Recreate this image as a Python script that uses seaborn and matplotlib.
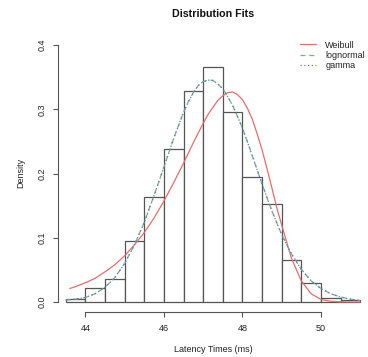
import seaborn as sns
import pandas as pd
import matplotlib.pyplot as plt

# histogram (density per 0.5 ms bin)
bin_edges = [43.5, 44.0, 44.5, 45.0, 45.5, 46.0, 46.5, 47.0, 47.5,
             48.0, 48.5, 49.0, 49.5, 50.0, 50.5, 51.0]
hist_density = [0.005, 0.022, 0.036, 0.095, 0.164, 0.238, 0.328, 0.366,
                0.296, 0.194, 0.153, 0.065, 0.030, 0.006, 0.003]

# fitted densities
curve_x = [43.5, 43.75, 44.0, 44.25, 44.5, 44.75, 45.0, 45.25, 45.5, 45.75,
           46.0, 46.25, 46.5, 46.625, 46.75, 46.875, 47.0, 47.125, 47.25, 47.375,
           47.5, 47.625, 47.75, 47.875, 48.0, 48.125, 48.25,
           48.5, 48.75, 49.0, 49.25, 49.5, 49.75, 50.0, 50.25, 50.5, 50.75, 51.0]
lognormal = [0.003, 0.0045, 0.007, 0.013, 0.023, 0.038, 0.060, 0.089, 0.124, 0.166,
             0.210, 0.255, 0.295, 0.312, 0.326, 0.337, 0.343, 0.3455, 0.345, 0.3395,
             0.332, 0.320, 0.306, 0.289, 0.271, 0.250, 0.228,
             0.184, 0.142, 0.105, 0.075, 0.051, 0.033, 0.021, 0.013, 0.0078, 0.0045, 0.0025]
gamma = [0.003, 0.0046, 0.0072, 0.013, 0.023, 0.038, 0.060, 0.089, 0.124, 0.166,
         0.210, 0.255, 0.295, 0.312, 0.326, 0.337, 0.343, 0.3455, 0.345, 0.3395,
         0.332, 0.320, 0.306, 0.289, 0.271, 0.250, 0.228,
         0.184, 0.142, 0.105, 0.075, 0.051, 0.033, 0.021, 0.013, 0.0077, 0.0044, 0.0024]

weibull_x = [43.6, 43.75, 44.0, 44.25, 44.5, 44.75, 45.0, 45.25, 45.5, 45.75,
             46.0, 46.25, 46.5, 46.75, 47.0, 47.125, 47.25, 47.375, 47.5, 47.625,
             47.75, 47.875, 48.0, 48.125, 48.25, 48.375, 48.5, 48.625, 48.75, 48.875,
             49.0, 49.25, 49.5, 49.75, 50.0, 50.25, 50.5, 50.75, 51.0]
weibull = [0.021, 0.024, 0.030, 0.037, 0.047, 0.058, 0.072, 0.089, 0.108, 0.131,
           0.157, 0.186, 0.216, 0.248, 0.278, 0.292, 0.303, 0.314, 0.321, 0.326,
           0.327, 0.323, 0.315, 0.302, 0.285, 0.262, 0.237, 0.208, 0.178, 0.147,
           0.120, 0.068, 0.033, 0.013, 0.004, 0.0012, 0.0003, 0.0001, 0.0]

sns.set_style("ticks")
plt.rcParams['font.family'] = ['Liberation Sans', 'DejaVu Sans']
plt.rcParams['font.size'] = 6.5

fig = plt.figure(figsize=(3.68, 3.57), dpi=100)
ax = fig.add_axes([58.3 / 368, 1 - 312.3 / 357, (368 - 58.3) / 368, (312.3 - 34.8) / 357])

centers = [(a + b) / 2 for a, b in zip(bin_edges[:-1], bin_edges[1:])]
sns.histplot(x=centers, weights=hist_density, bins=bin_edges, stat="count",
             color="white", edgecolor="#555555", linewidth=0.9, alpha=1, ax=ax)

sns.lineplot(x=weibull_x, y=weibull, ax=ax, color="#e36e6e", lw=0.9, label="Weibull")
sns.lineplot(x=curve_x, y=lognormal, ax=ax, color="#6cbd6c", lw=0.9,
             linestyle=(0, (4, 3)), label="lognormal")
sns.lineplot(x=curve_x, y=gamma, ax=ax, color="#6b6be0", lw=0.9,
             linestyle=(0, (1, 2)), label="gamma")

ax.set_xlim(43.31, 51.2)
ax.set_ylim(-0.016, 0.416)
ax.set_xticks([44, 46, 48, 50])
ax.set_yticks([0.0, 0.1, 0.2, 0.3, 0.4])
ax.set_yticklabels(["0.0", "0.1", "0.2", "0.3", "0.4"], rotation=90, va="center")
ax.set_xlabel("")
ax.set_ylabel("")
sns.despine(ax=ax)
ax.spines['left'].set_bounds(0, 0.4)
ax.spines['bottom'].set_bounds(44, 50)
for s in ['left', 'bottom']:
    ax.spines[s].set_color('#555555')
    ax.spines[s].set_linewidth(0.8)
ax.tick_params(length=3.6, width=0.8, color='#555555', labelsize=6.5,
               labelcolor='#222222', pad=5)

ax.legend(frameon=False, loc="upper left", bbox_to_anchor=(300 / 368, 1 - 40.5 / 357),
          bbox_transform=fig.transFigure, borderpad=0, borderaxespad=0,
          handlelength=1.8, handletextpad=1.0, labelspacing=0.15, fontsize=6.5,
          labelcolor='#222222')

fig.text(213 / 368, 1 - 14 / 357, "Distribution Fits", ha="center", va="center",
         fontsize=7.7, fontweight="bold", color="#111111")
fig.text(213 / 368, 1 - 350 / 357, "Latency Times (ms)", ha="center", va="center",
         fontsize=6.5, color="#222222")
fig.text(20.7 / 368, 1 - 173 / 357, "Density", ha="center", va="center",
         rotation=90, fontsize=6.5, color="#222222")

fig.savefig("out.png", dpi=100)
